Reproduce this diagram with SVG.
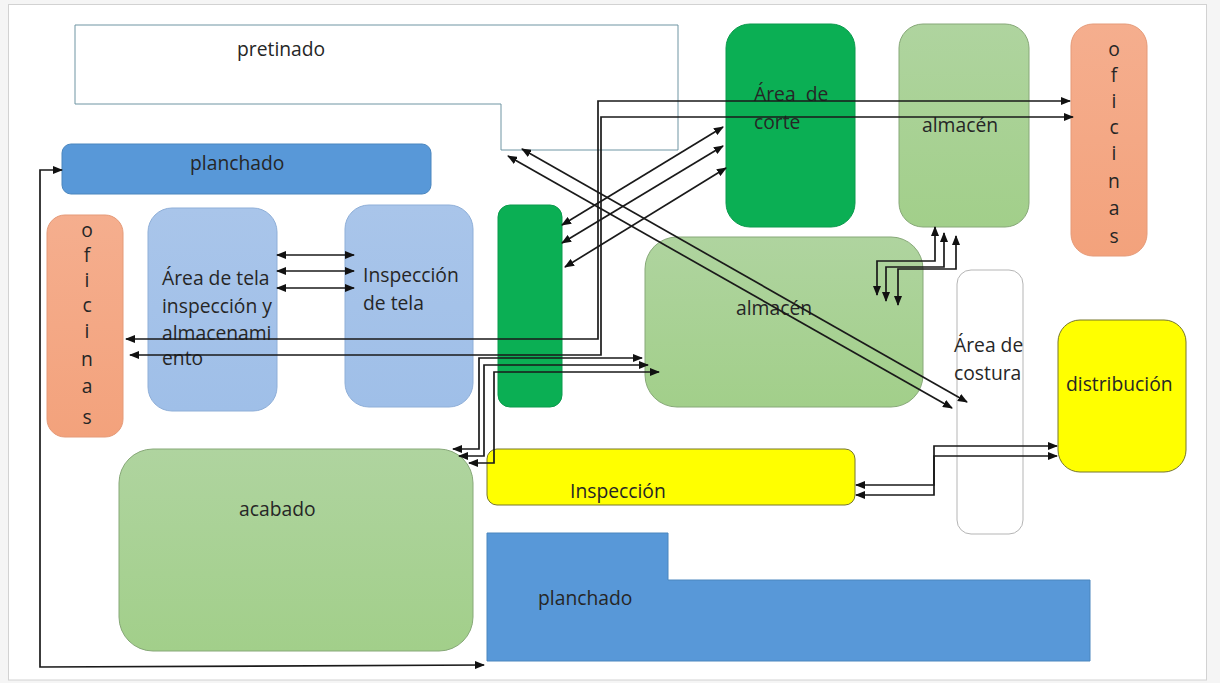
<svg xmlns="http://www.w3.org/2000/svg" width="1220" height="683" viewBox="0 0 1220 683">
<style>
text{font-family:"Open Sans","Noto Sans","Liberation Sans",sans-serif;font-size:19.3px;fill:#262626;white-space:pre}
.c{text-anchor:middle}
.g{fill:#0BAF54;stroke:#0A9A4C;stroke-width:1}
.l{fill:url(#gl);stroke:#87A878;stroke-width:1}
.b{fill:url(#gb);stroke:#8FAFD8;stroke-width:1}
.o{fill:url(#go);stroke:#E59A78;stroke-width:1}
.d{fill:#5898D8;stroke:#4A86BE;stroke-width:1}
.y{fill:#FFFF00;stroke:#77772A;stroke-width:1}
#connectors path{fill:none;stroke:#1a1a1a;stroke-width:1.7}
.a{marker-end:url(#h)}
.s{marker-start:url(#hs)}
</style>
<defs>
<linearGradient id="gl" x1="0" y1="0" x2="0" y2="1"><stop offset="0" stop-color="#AFD49F"/><stop offset="1" stop-color="#A2CF8A"/></linearGradient>
<linearGradient id="gb" x1="0" y1="0" x2="0" y2="1"><stop offset="0" stop-color="#A9C5EA"/><stop offset="1" stop-color="#9FBFE8"/></linearGradient>
<linearGradient id="go" x1="0" y1="0" x2="0" y2="1"><stop offset="0" stop-color="#F5AE8E"/><stop offset="1" stop-color="#F3A27C"/></linearGradient>
<marker id="h" markerUnits="userSpaceOnUse" markerWidth="10" markerHeight="8" refX="9" refY="4" orient="auto"><path d="M0 0L10 4L0 8Z" fill="#111" stroke="none"/></marker>
<marker id="hs" markerUnits="userSpaceOnUse" markerWidth="10" markerHeight="8" refX="1" refY="4" orient="auto"><path d="M10 0L0 4L10 8Z" fill="#111" stroke="none"/></marker>
</defs>
<rect width="1220" height="683" fill="#F5F5F5"/>
<rect x="8.5" y="4.5" width="1198" height="675.5" fill="#FFFFFF" stroke="#D2D2D2"/>
<g id="pretinado"><path d="M75 25H678V150H501V104H75Z" fill="#fff" stroke="#6E95A3" stroke-width="1"/><text x="237" y="56">pretinado</text></g>
<g id="corte"><rect class="g" x="726" y="24" width="129" height="203" rx="24"/><text x="754" y="101">Área  de</text><text x="754" y="129">corte</text></g>
<g id="almacen1"><rect class="l" x="899" y="24" width="130" height="203" rx="24"/><text x="922" y="132">almacén</text></g>
<g id="oficinas1"><rect class="o" x="1071" y="24" width="76" height="232" rx="22"/><g class="c"><text x="1114" y="56">o</text><text x="1114" y="82">f</text><text x="1114" y="108">i</text><text x="1114" y="134">c</text><text x="1114" y="160">i</text><text x="1114" y="188">n</text><text x="1114" y="215">a</text><text x="1114" y="243">s</text></g></g>
<g id="planchado1"><rect class="d" x="62" y="144" width="369" height="50" rx="9"/><text x="190" y="170">planchado</text></g>
<g id="oficinas2"><rect class="o" x="47" y="215" width="76" height="222" rx="18"/><g class="c"><text x="87" y="237">o</text><text x="87" y="262">f</text><text x="87" y="287">i</text><text x="87" y="312">c</text><text x="87" y="338">i</text><text x="87" y="366">n</text><text x="87" y="393">a</text><text x="87" y="424">s</text></g></g>
<g id="tela"><rect class="b" x="148" y="208" width="129" height="203" rx="24"/><text x="162" y="285">Área de tela</text><text x="162" y="313">inspección y</text><text x="162" y="340">almacenami</text><text x="162" y="365">ento</text></g>
<g id="insp-tela"><rect class="b" x="345" y="205" width="128" height="202" rx="24"/><text x="363" y="282">Inspección</text><text x="363" y="310">de tela</text></g>
<g id="verde"><rect class="g" x="498" y="205" width="64" height="202" rx="12"/></g>
<g id="almacen2"><rect class="l" x="645" y="237" width="278" height="170" rx="32"/><text x="736" y="315">almacén</text></g>
<g id="costura"><rect x="957" y="270" width="66" height="264" rx="14" fill="#fff" stroke="#B5B5B5"/><text x="954" y="352">Área de</text><text x="954" y="380">costura</text></g>
<g id="distribucion"><rect class="y" x="1058" y="320" width="128" height="152" rx="22"/><text x="1066" y="391">distribución</text></g>
<g id="inspeccion"><rect class="y" x="487" y="449" width="368" height="56" rx="10"/><text x="570" y="498">Inspección</text></g>
<g id="acabado"><rect class="l" x="119" y="449" width="354" height="202" rx="34"/><text x="239" y="516">acabado</text></g>
<g id="planchado2"><path class="d" d="M487 533H668V580H1090V661H487Z"/><text x="538" y="605">planchado</text></g>
<g id="connectors">
<path class="a s" d="M126 339H598V101H1070"/>
<path class="a s" d="M130 355H601V117H1073"/>
<path class="a s" d="M642 358H479V449H453"/>
<path class="a s" d="M648 365H484V456H459"/>
<path class="a s" d="M659 372H494V463H469"/>
<path class="a s" d="M723 127L562 225"/>
<path class="a s" d="M723 146L562 243"/>
<path class="a s" d="M726 168L565 267"/>
<path class="a s" d="M522 149L967 402"/>
<path class="a s" d="M508 156L952 408"/>
<path class="a s" d="M277 255H354"/>
<path class="a s" d="M277 271H354"/>
<path class="a s" d="M277 288H354"/>
<path class="a s" d="M935 227V261H877V295"/>
<path class="a s" d="M944 233V267H886V301"/>
<path class="a s" d="M956 236V269H898V305"/>
<path class="a s" d="M856 485H934V446H1057"/>
<path class="a s" d="M856 495H934V456H1057"/>
<path class="a s" d="M484 665L40 667V170H62"/>
</g>
</svg>
